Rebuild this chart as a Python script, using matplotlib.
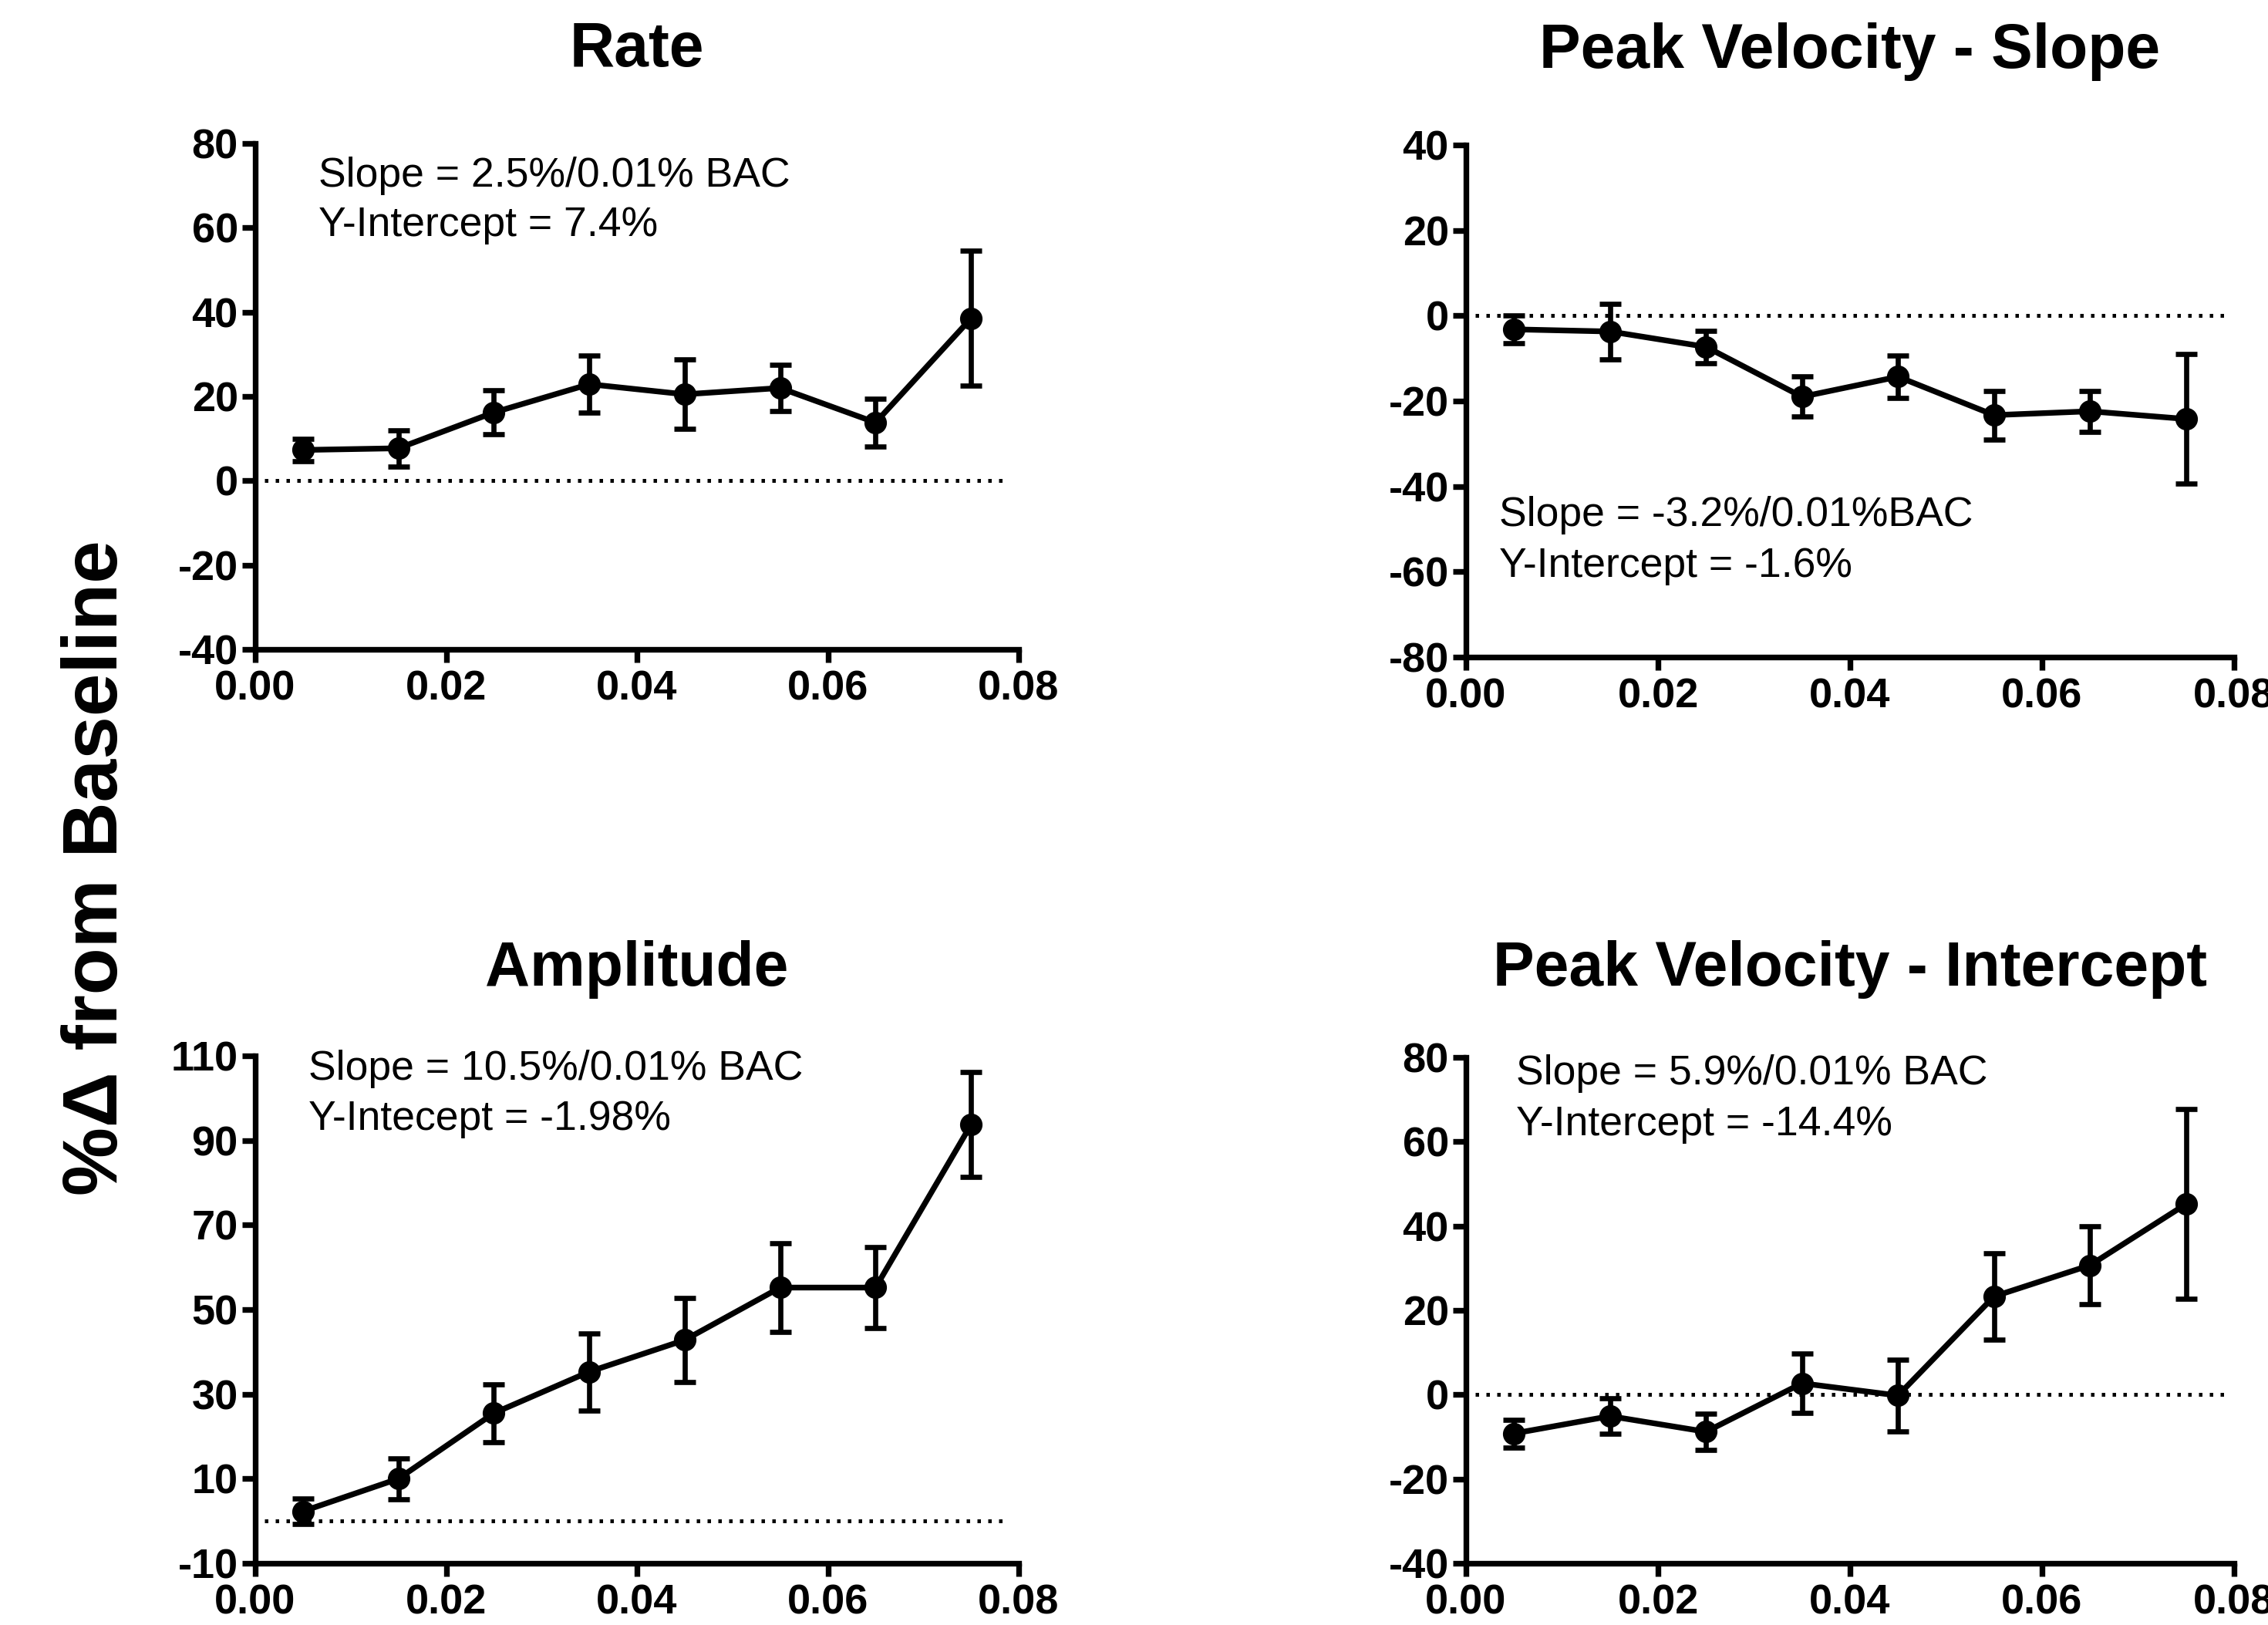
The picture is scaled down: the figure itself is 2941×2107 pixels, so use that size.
"""Four-panel % change from baseline vs BAC, Prism-style."""

import matplotlib

matplotlib.use("Agg")
import matplotlib.pyplot as plt
from matplotlib.ticker import FixedLocator, FormatStrFormatter, MultipleLocator

plt.rcParams["font.family"] = ["Liberation Sans", "DejaVu Sans"]
plt.rcParams["axes.unicode_minus"] = False

FIG_W, FIG_H = 2941, 2107

# BAC levels (x) shared by all panels
bac = [0.005, 0.015, 0.025, 0.035, 0.045, 0.055, 0.065, 0.075]

rate_mean = [7.3, 7.7, 16.2, 22.9, 20.5, 22.0, 13.8, 38.5]
rate_err = [2.7, 4.3, 5.2, 6.8, 8.2, 5.5, 5.7, 16.0]

pv_slope_mean = [-3.2, -3.7, -7.3, -19.0, -14.3, -23.3, -22.4, -24.2]
pv_slope_err = [3.3, 6.5, 3.8, 4.7, 5.0, 5.7, 4.8, 15.2]

amp_mean = [2.3, 10.0, 25.5, 35.3, 42.8, 55.2, 55.2, 93.7]
amp_err = [3.0, 4.8, 6.8, 9.1, 10.0, 10.5, 9.5, 12.4]

pv_int_mean = [-9.2, -5.1, -8.8, 2.7, -0.2, 23.3, 30.7, 45.2]
pv_int_err = [3.3, 4.2, 4.3, 7.0, 8.5, 10.2, 9.3, 22.5]

titles = ["Rate", "Peak Velocity - Slope", "Amplitude", "Peak Velocity - Intercept"]
y_limits = [(-40, 80), (-80, 40), (-10, 110), (-40, 80)]
annotations = [
    ("Slope = 2.5%/0.01% BAC", "Y-Intercept = 7.4%"),
    ("Slope = -3.2%/0.01%BAC", "Y-Intercept = -1.6%"),
    ("Slope = 10.5%/0.01% BAC", "Y-Intecept = -1.98%"),
    ("Slope = 5.9%/0.01% BAC", "Y-Intercept = -14.4%"),
]

# axes boxes in pixels: left, right, top, bottom
boxes = [
    (331, 1321, 186, 842),
    (1901, 2897, 188, 852),
    (331, 1321, 1369, 2027),
    (1901, 2897, 1371, 2027),
]
# annotation anchors in pixels: x, baseline line 1, baseline line 2
text_pos = [
    (413, 242, 306),
    (1944, 682, 748),
    (400, 1400, 1465),
    (1966, 1406, 1472),
]
title_baselines = [86, 88, 1278, 1278]


def fig_xy(px, py):
    return px / FIG_W, 1 - py / FIG_H


def style_axis(axis, ylim):
    axis.set_xlim(0, 0.08)
    axis.set_ylim(*ylim)
    axis.xaxis.set_major_locator(MultipleLocator(0.02))
    axis.yaxis.set_major_locator(FixedLocator(range(ylim[0], ylim[1] + 1, 20)))
    axis.xaxis.set_major_formatter(FormatStrFormatter("%.2f"))
    axis.yaxis.set_major_formatter(FormatStrFormatter("%d"))
    for side in ("top", "right"):
        axis.spines[side].set_visible(False)
    for side in ("left", "bottom"):
        axis.spines[side].set_linewidth(5.3)
    axis.tick_params(
        direction="out", length=12, width=5.3, labelsize=39, color="black"
    )
    axis.tick_params(axis="y", pad=4)
    axis.tick_params(axis="x", pad=7)
    for label in axis.get_xticklabels() + axis.get_yticklabels():
        label.set_fontweight("bold")


figure = plt.figure(figsize=(FIG_W / 100, FIG_H / 100), dpi=100)

series = [
    (rate_mean, rate_err),
    (pv_slope_mean, pv_slope_err),
    (amp_mean, amp_err),
    (pv_int_mean, pv_int_err),
]

for idx, (mean, err) in enumerate(series):
    left, right, top, bottom = boxes[idx]
    axis = figure.add_axes(
        [left / FIG_W, 1 - bottom / FIG_H, (right - left) / FIG_W, (bottom - top) / FIG_H]
    )
    style_axis(axis, y_limits[idx])

    axis.axhline(
        0, xmin=0.012, xmax=0.988, color="black", linewidth=3.6,
        linestyle=(0, (0.9, 1.9)), zorder=1,
    )
    axis.errorbar(
        bac, mean, yerr=err, fmt="-o", color="black", linewidth=5.3,
        markersize=20, elinewidth=4.8, capsize=10, capthick=4.8,
        clip_on=False, zorder=3,
    )

    center_x = (left + right) / 2
    figure.text(
        *fig_xy(center_x, title_baselines[idx]), titles[idx],
        ha="center", va="baseline", fontsize=58, fontweight="bold",
    )

    text_x, base_1, base_2 = text_pos[idx]
    line_1, line_2 = annotations[idx]
    figure.text(*fig_xy(text_x, base_1), line_1, ha="left", va="baseline", fontsize=38.5)
    figure.text(*fig_xy(text_x, base_2), line_2, ha="left", va="baseline", fontsize=38.5)

figure.text(
    *fig_xy(152, 1125), "%\u0394 from Baseline", rotation=90,
    rotation_mode="anchor", ha="center", va="baseline",
    fontsize=72, fontweight="bold",
)

figure.savefig("out.png", dpi=100)
plt.close(figure)
